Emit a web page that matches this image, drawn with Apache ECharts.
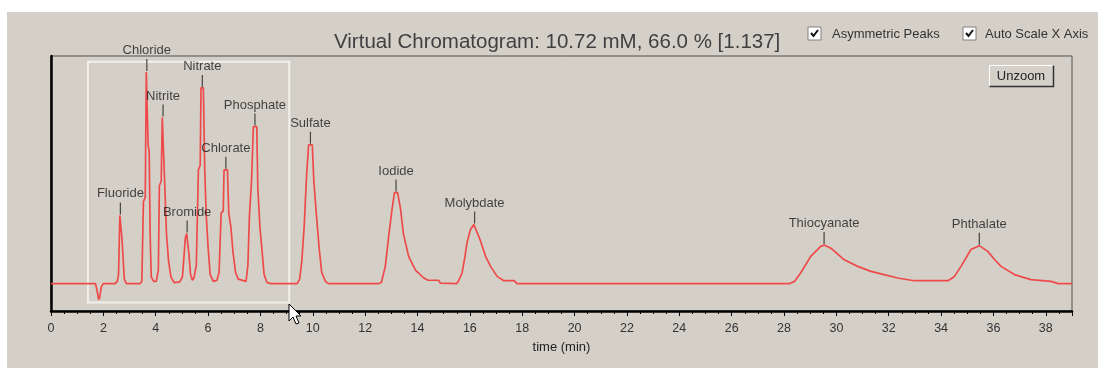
<!DOCTYPE html>
<html>
<head>
<meta charset="utf-8">
<script src="https://cdn.jsdelivr.net/npm/echarts@6/dist/echarts.min.js"></script>
<style>
html,body{margin:0;padding:0;background:#ffffff;}
#chart{width:1098px;height:368px;}
</style>
</head>
<body>
<div id="chart"></div>
<script>
// ---- data (time in min, signal in arbitrary units) ----
const titleText = 'Virtual Chromatogram: 10.72 mM, 66.0 % [1.137]';
const axisName = 'time (min)';
const xTickLabels = [0,2,4,6,8,10,12,14,16,18,20,22,24,26,28,30,32,34,36,38];

const startTrace     = [[0,0],[1.70,0]];
const dipTrace       = [[1.76,-3],[1.82,-7],[1.86,-6],[1.92,-1.5],[2.00,0]];
const fluorideTrace  = [[2.45,0],[2.53,1],[2.58,4],[2.63,30],[2.68,30],[2.71,20],[2.76,10],[2.80,2],[2.88,0],[3.40,0]];
const chlorideTrace  = [[3.47,1],[3.53,36],[3.60,38],[3.64,93],[3.68,93],[3.71,61],[3.75,58],[3.79,20],[3.83,3],[3.92,1],[4.02,1]];
const nitriteTrace   = [[4.10,6],[4.14,43],[4.21,45],[4.25,73],[4.31,73],[4.35,42],[4.41,22],[4.49,10],[4.58,3],[4.70,0.5],[4.92,0.8]];
const bromideTrace   = [[5.02,3],[5.08,12],[5.13,20],[5.18,22],[5.22,22],[5.27,13],[5.33,4],[5.40,1.5],[5.46,2.5]];
const nitrateTrace   = [[5.55,8],[5.63,50],[5.70,52],[5.73,86],[5.82,86],[5.87,51],[5.93,30],[6.00,16],[6.08,4],[6.20,1],[6.34,1.5]];
const chlorateTrace  = [[6.42,5],[6.50,31],[6.58,32],[6.61,50],[6.74,50],[6.79,31],[6.87,25],[6.95,14],[7.05,5],[7.15,2],[7.45,1]];
const phosphateTrace = [[7.52,8],[7.58,30],[7.66,45],[7.73,69],[7.86,69],[7.90,42],[7.98,25],[8.05,16],[8.14,4],[8.25,0.5],[8.40,0],[9.40,0]];
const sulfateTrace   = [[9.50,2],[9.58,10],[9.67,25],[9.76,47],[9.84,61],[9.98,61],[10.04,45],[10.14,30],[10.24,16],[10.34,5],[10.48,1],[10.60,0],[12.50,0]];
const iodideTrace    = [[12.62,0.5],[12.77,7.6],[12.90,21],[13.03,33],[13.12,40],[13.24,40],[13.35,33],[13.46,22],[13.66,12],[13.92,6],[14.23,2.6],[14.40,1.5],[14.80,1.5],[14.88,0.2],[15.50,0]];
const molybdateTrace = [[15.58,1.5],[15.70,4.7],[15.80,11],[15.89,18],[16.02,23.7],[16.15,26],[16.22,26],[16.40,19],[16.60,12],[16.79,7.6],[17.04,3.2],[17.30,1.3],[17.70,1.3],[17.80,0],[28.20,0]];
const thiocyanateTrace = [[28.40,1],[28.64,4.8],[29.02,12],[29.40,16.4],[29.53,17],[29.79,15.6],[30.05,13],[30.30,10.5],[30.81,7.6],[31.32,5.4],[31.82,4],[32.34,2.5],[32.97,1.3],[34.26,1.3]];
const phthalateTrace = [[34.50,3],[34.76,7.6],[35.14,15],[35.46,16.7],[35.78,14.2],[36.05,10.5],[36.29,7.6],[36.80,4],[37.43,1.8],[38.20,1],[38.47,0],[39.00,0]];

const peakNames  = ['Fluoride','Chloride','Nitrite','Bromide','Nitrate','Chlorate','Phosphate','Sulfate','Iodide','Molybdate','Thiocyanate','Phthalate'];
const peakTimes  = [2.65, 3.66, 4.28, 5.20, 5.78, 6.68, 7.79, 9.91, 13.18, 16.18, 29.53, 35.46];
const peakHeights= [30, 93, 73, 22, 86, 50, 69, 61, 40, 26, 17, 16.7];

// zoom selection rectangle, in data units
const zoomBoxTime = [1.41, 9.10];
const zoomBoxSignal = [-8.3, 97.5];

const trace = [].concat(startTrace, dipTrace, fluorideTrace, chlorideTrace, nitriteTrace, bromideTrace,
  nitrateTrace, chlorateTrace, phosphateTrace, sulfateTrace, iodideTrace, molybdateTrace,
  thiocyanateTrace, phthalateTrace);
const peaks = peakNames.map((n, i) => ({ name: n, value: [peakTimes[i], peakHeights[i]] }));

const FONT = 'Arial, "Liberation Sans", sans-serif';
const chart = echarts.init(document.getElementById('chart'), null, { renderer: 'canvas' });

const option = {
  animation: false,
  backgroundColor: '#ffffff',
  title: {
    text: titleText,
    left: 329, top: 27,
    textStyle: { fontFamily: FONT, fontSize: 20.5, fontWeight: 'normal', color: '#404040' }
  },
  grid: { left: 51, right: 26, top: 56, bottom: 57, show: true, borderColor: '#505050', borderWidth: 1, backgroundColor: 'transparent' },
  xAxis: {
    type: 'value', min: 0, max: 39, interval: 2,
    name: axisName, nameLocation: 'middle', nameGap: 30,
    nameTextStyle: { fontFamily: FONT, fontSize: 13, color: '#222' },
    axisLine: { show: true, onZero: false, lineStyle: { color: '#000', width: 2.5 } },
    axisTick: { show: true, inside: false, length: 5, lineStyle: { color: '#000', width: 1 } },
    minorTick: { show: true, splitNumber: 4, length: 3, lineStyle: { color: '#000', width: 1 } },
    axisLabel: {
      margin: 11, fontFamily: FONT, fontSize: 12.5, color: '#333',
      formatter: v => (xTickLabels.indexOf(v) >= 0 ? String(v) : ''),
      showMaxLabel: false
    },
    splitLine: { show: false }
  },
  yAxis: {
    type: 'value', min: -12, max: 100,
    axisLine: { show: true, onZero: false, lineStyle: { color: '#000', width: 2.5 } },
    axisTick: { show: false }, axisLabel: { show: false }, splitLine: { show: false }
  },
  series: [
    {
      type: 'line', data: trace, showSymbol: false, symbol: 'none',
      lineStyle: { color: '#ee4a4a', width: 1.7 },
      z: 3,
      markArea: {
        silent: true,
        itemStyle: { color: 'rgba(0,0,0,0)', borderColor: '#f2f0ec', borderWidth: 2 },
        data: [[{ coord: [zoomBoxTime[0], zoomBoxSignal[0]] }, { coord: [zoomBoxTime[1], zoomBoxSignal[1]] }]]
      }
    },
    {
      type: 'scatter', data: peaks, symbol: 'rect', symbolSize: [1.2, 12], symbolOffset: [0, -7],
      itemStyle: { color: '#222' }, z: 4, silent: true,
      label: {
        show: true, position: 'top', distance: 2, formatter: p => p.name,
        fontFamily: FONT, fontSize: 13, color: '#1a1a1a'
      }
    }
  ],
  graphic: [
    { type: 'rect', z: -10, silent: true, shape: { x: 7, y: 12, width: 1091, height: 356 }, style: { fill: '#d4d0c8' } },
    // checkbox 1
    { type: 'rect', shape: { x: 808, y: 27, width: 13, height: 13 }, style: { fill: '#ffffff', stroke: '#808080', lineWidth: 1 } },
    { type: 'polyline', shape: { points: [[811, 33], [813.5, 36], [818, 30]] }, style: { stroke: '#111', lineWidth: 2, fill: null } },
    { type: 'text', style: { x: 832, y: 34, text: 'Asymmetric Peaks', font: '13px ' + FONT, fill: '#333', textVerticalAlign: 'middle' } },
    // checkbox 2
    { type: 'rect', shape: { x: 963, y: 27, width: 13, height: 13 }, style: { fill: '#ffffff', stroke: '#808080', lineWidth: 1 } },
    { type: 'polyline', shape: { points: [[966, 33], [968.5, 36], [973, 30]] }, style: { stroke: '#111', lineWidth: 2, fill: null } },
    { type: 'text', style: { x: 985, y: 34, text: 'Auto Scale X Axis', font: '13px ' + FONT, fill: '#333', textVerticalAlign: 'middle' } },
    // Unzoom button
    { type: 'rect', shape: { x: 989, y: 65, width: 65, height: 22 }, style: { fill: '#d4d0c8', stroke: null } },
    { type: 'polyline', shape: { points: [[989.5, 86.5], [989.5, 65.5], [1053.5, 65.5]] }, style: { stroke: '#ffffff', lineWidth: 1, fill: null } },
    { type: 'polyline', shape: { points: [[989.5, 86.5], [1053.5, 86.5], [1053.5, 65.5]] }, style: { stroke: '#303030', lineWidth: 1.5, fill: null } },
    { type: 'text', style: { x: 1021, y: 76, text: 'Unzoom', font: '13px ' + FONT, fill: '#222', textAlign: 'center', textVerticalAlign: 'middle' } },
    // mouse cursor
    { type: 'polygon', z: 100, shape: { points: [[289, 304], [289, 321], [293, 317], [296, 324], [299, 323], [296, 316], [301, 316]] },
      style: { fill: '#ffffff', stroke: '#000', lineWidth: 1 } }
  ]
};
chart.setOption(option);
</script>
</body>
</html>
